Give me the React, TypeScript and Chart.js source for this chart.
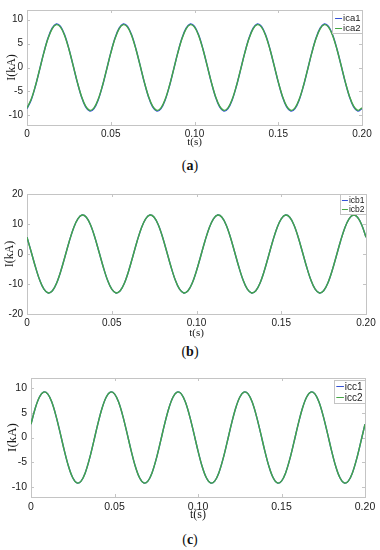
import React, { useEffect, useRef } from "react";
import { Chart, registerables } from "chart.js";

Chart.register(...registerables);

// ---- data ----
const T = [
  0, 0.0025, 0.005, 0.0075, 0.01, 0.0125, 0.015, 0.0175, 0.02, 0.0225, 0.025, 0.0275, 0.03, 0.0325, 0.035, 0.0375,
  0.04, 0.0425, 0.045, 0.0475, 0.05, 0.0525, 0.055, 0.0575, 0.06, 0.0625, 0.065, 0.0675, 0.07, 0.0725, 0.075, 0.0775,
  0.08, 0.0825, 0.085, 0.0875, 0.09, 0.0925, 0.095, 0.0975, 0.1, 0.1025, 0.105, 0.1075, 0.11, 0.1125, 0.115, 0.1175,
  0.12, 0.1225, 0.125, 0.1275, 0.13, 0.1325, 0.135, 0.1375, 0.14, 0.1425, 0.145, 0.1475, 0.15, 0.1525, 0.155, 0.1575,
  0.16, 0.1625, 0.165, 0.1675, 0.17, 0.1725, 0.175, 0.1775, 0.18, 0.1825, 0.185, 0.1875, 0.19, 0.1925, 0.195, 0.1975,
  0.2,
];

const ica1 = [
  -8.58, -6.76, -3.92, -0.48, 3.04, 6.09, 8.21, 9.09, 8.58, 6.76, 3.92, 0.48, -3.04, -6.09, -8.21, -9.09,
  -8.58, -6.76, -3.92, -0.48, 3.04, 6.09, 8.21, 9.09, 8.58, 6.76, 3.92, 0.48, -3.04, -6.09, -8.21, -9.09,
  -8.58, -6.76, -3.92, -0.48, 3.04, 6.09, 8.21, 9.09, 8.58, 6.76, 3.92, 0.48, -3.04, -6.09, -8.21, -9.09,
  -8.58, -6.76, -3.92, -0.48, 3.04, 6.09, 8.21, 9.09, 8.58, 6.76, 3.92, 0.48, -3.04, -6.09, -8.21, -9.09,
  -8.58, -6.76, -3.92, -0.48, 3.04, 6.09, 8.21, 9.09, 8.58, 6.76, 3.92, 0.48, -3.04, -6.09, -8.21, -9.09,
  -8.58,
];
const ica2 = [
  -8.44, -6.65, -3.85, -0.47, 2.99, 5.99, 8.08, 8.94, 8.44, 6.65, 3.85, 0.47, -2.99, -5.99, -8.08, -8.94,
  -8.44, -6.65, -3.85, -0.47, 2.99, 5.99, 8.08, 8.94, 8.44, 6.65, 3.85, 0.47, -2.99, -5.99, -8.08, -8.94,
  -8.44, -6.65, -3.85, -0.47, 2.99, 5.99, 8.08, 8.94, 8.44, 6.65, 3.85, 0.47, -2.99, -5.99, -8.08, -8.94,
  -8.44, -6.65, -3.85, -0.47, 2.99, 5.99, 8.08, 8.94, 8.44, 6.65, 3.85, 0.47, -2.99, -5.99, -8.08, -8.94,
  -8.44, -6.65, -3.85, -0.47, 2.99, 5.99, 8.08, 8.94, 8.44, 6.65, 3.85, 0.47, -2.99, -5.99, -8.08, -8.94,
  -8.44,
];
const icb1 = [
  5.6, 0.68, -4.34, -8.7, -11.73, -12.98, -12.25, -9.66, -5.6, -0.68, 4.34, 8.7, 11.73, 12.98, 12.25, 9.66,
  5.6, 0.68, -4.34, -8.7, -11.73, -12.98, -12.25, -9.66, -5.6, -0.68, 4.34, 8.7, 11.73, 12.98, 12.25, 9.66,
  5.6, 0.68, -4.34, -8.7, -11.73, -12.98, -12.25, -9.66, -5.6, -0.68, 4.34, 8.7, 11.73, 12.98, 12.25, 9.66,
  5.6, 0.68, -4.34, -8.7, -11.73, -12.98, -12.25, -9.66, -5.6, -0.68, 4.34, 8.7, 11.73, 12.98, 12.25, 9.66,
  5.6, 0.68, -4.34, -8.7, -11.73, -12.98, -12.25, -9.66, -5.6, -0.68, 4.34, 8.7, 11.73, 12.98, 12.25, 9.66,
  5.6,
];
const icb2 = [
  5.6, 0.68, -4.34, -8.7, -11.73, -12.98, -12.25, -9.66, -5.6, -0.68, 4.34, 8.7, 11.73, 12.98, 12.25, 9.66,
  5.6, 0.68, -4.34, -8.7, -11.73, -12.98, -12.25, -9.66, -5.6, -0.68, 4.34, 8.7, 11.73, 12.98, 12.25, 9.66,
  5.6, 0.68, -4.34, -8.7, -11.73, -12.98, -12.25, -9.66, -5.6, -0.68, 4.34, 8.7, 11.73, 12.98, 12.25, 9.66,
  5.6, 0.68, -4.34, -8.7, -11.73, -12.98, -12.25, -9.66, -5.6, -0.68, 4.34, 8.7, 11.73, 12.98, 12.25, 9.66,
  5.6, 0.68, -4.34, -8.7, -11.73, -12.98, -12.25, -9.66, -5.6, -0.68, 4.34, 8.7, 11.73, 12.98, 12.25, 9.66,
  5.6,
];
const icc1 = [
  2.69, 5.85, 8.12, 9.16, 8.8, 7.1, 4.32, 0.88, -2.69, -5.85, -8.12, -9.16, -8.8, -7.1, -4.32, -0.88,
  2.69, 5.85, 8.12, 9.16, 8.8, 7.1, 4.32, 0.88, -2.69, -5.85, -8.12, -9.16, -8.8, -7.1, -4.32, -0.88,
  2.69, 5.85, 8.12, 9.16, 8.8, 7.1, 4.32, 0.88, -2.69, -5.85, -8.12, -9.16, -8.8, -7.1, -4.32, -0.88,
  2.69, 5.85, 8.12, 9.16, 8.8, 7.1, 4.32, 0.88, -2.69, -5.85, -8.12, -9.16, -8.8, -7.1, -4.32, -0.88,
  2.69, 5.85, 8.12, 9.16, 8.8, 7.1, 4.32, 0.88, -2.69, -5.85, -8.12, -9.16, -8.8, -7.1, -4.32, -0.88,
  2.69,
];
const icc2 = [
  2.69, 5.85, 8.12, 9.16, 8.8, 7.1, 4.32, 0.88, -2.69, -5.85, -8.12, -9.16, -8.8, -7.1, -4.32, -0.88,
  2.69, 5.85, 8.12, 9.16, 8.8, 7.1, 4.32, 0.88, -2.69, -5.85, -8.12, -9.16, -8.8, -7.1, -4.32, -0.88,
  2.69, 5.85, 8.12, 9.16, 8.8, 7.1, 4.32, 0.88, -2.69, -5.85, -8.12, -9.16, -8.8, -7.1, -4.32, -0.88,
  2.69, 5.85, 8.12, 9.16, 8.8, 7.1, 4.32, 0.88, -2.69, -5.85, -8.12, -9.16, -8.8, -7.1, -4.32, -0.88,
  2.69, 5.85, 8.12, 9.16, 8.8, 7.1, 4.32, 0.88, -2.69, -5.85, -8.12, -9.16, -8.8, -7.1, -4.32, -0.88,
  2.69,
];

const X_TICKS = [0, 0.05, 0.1, 0.15, 0.2];
const X_TICK_LABELS = ["0", "0.05", "0.10", "0.15", "0.20"];
const Y_TICKS_AC = [-10, -5, 0, 5, 10];
const Y_TICKS_B = [-20, -10, 0, 10, 20];
const X_TITLE = "t(s)";
const Y_TITLE = "I(kA)";

const BLUE = "#3552d6";
const GREEN = "#45a745";
const FRAME = "#c4c4c4";
const SANS = '"Liberation Sans", Arial, sans-serif';
const SERIF = '"Liberation Serif", "Times New Roman", serif';

// ---- plugins ----
const framePlugin = {
  id: "frameTicks",
  beforeDatasetsDraw(chart: any) {
    const { ctx, chartArea: a, scales } = chart;
    const L = 3;
    ctx.save();
    ctx.strokeStyle = FRAME;
    ctx.lineWidth = 1;
    ctx.beginPath();
    scales.x.ticks.forEach((t: any) => {
      const px = Math.round(scales.x.getPixelForValue(t.value)) + 0.5;
      ctx.moveTo(px, a.bottom);
      ctx.lineTo(px, a.bottom - L);
      ctx.moveTo(px, a.top);
      ctx.lineTo(px, a.top + L);
    });
    scales.y.ticks.forEach((t: any) => {
      const py = Math.round(scales.y.getPixelForValue(t.value)) + 0.5;
      ctx.moveTo(a.left, py);
      ctx.lineTo(a.left + L, py);
      ctx.moveTo(a.right, py);
      ctx.lineTo(a.right - L, py);
    });
    ctx.stroke();
    ctx.strokeRect(Math.round(a.left) + 0.5, Math.round(a.top) + 0.5, Math.round(a.right - a.left), Math.round(a.bottom - a.top));
    ctx.restore();
  },
};

const legendPlugin = {
  id: "boxLegend",
  afterDraw(chart: any, _args: any, o: any) {
    if (!o || !o.show) return;
    const { ctx, chartArea: a } = chart;
    const ds = chart.data.datasets;
    ctx.save();
    ctx.font = `${o.size}px ${SANS}`;
    const tw = Math.max(...ds.map((d: any) => ctx.measureText(d.label).width));
    const w = o.padL + o.lineLen + o.gap + tw + o.padR;
    const h = o.padT + ds.length * o.rowH + o.padB;
    const x = a.right - w - o.offR;
    const y = a.top + o.offT;
    ctx.fillStyle = "#ffffff";
    ctx.fillRect(x, y, w, h);
    ctx.strokeStyle = FRAME;
    ctx.lineWidth = 1;
    ctx.strokeRect(Math.round(x) + 0.5, Math.round(y) + 0.5, Math.round(w), Math.round(h));
    ds.forEach((d: any, i: number) => {
      const cy = y + o.padT + o.rowH * (i + 0.5);
      ctx.strokeStyle = d.borderColor;
      ctx.lineWidth = 1;
      ctx.beginPath();
      ctx.moveTo(x + o.padL, Math.round(cy) + 0.5);
      ctx.lineTo(x + o.padL + o.lineLen, Math.round(cy) + 0.5);
      ctx.stroke();
      ctx.fillStyle = "#222";
      ctx.textBaseline = "middle";
      ctx.textAlign = "left";
      ctx.fillText(d.label, x + o.padL + o.lineLen + o.gap, cy + 0.5);
    });
    ctx.restore();
  },
};

type PanelCfg = {
  top: number;
  height: number;
  padTop: number;
  padRight: number;
  yWidth: number;
  xHeight: number;
  yMin: number;
  yMax: number;
  yTicks: number[];
  labels: string[];
  series: number[][];
  yTitleSize: number;
  yTitlePad: number;
  xTitleSize: number;
  xTitlePad: number;
  tickSize: number;
  tickPadX: number;
  legend: any;
  caption: string;
  captionTop: number;
};

const PANELS: PanelCfg[] = [
  {
    top: 0, height: 150, padTop: 4, padRight: 18, yWidth: 27, xHeight: 25,
    yMin: -12, yMax: 12, yTicks: Y_TICKS_AC, labels: ["ica1", "ica2"], series: [ica1, ica2],
    yTitleSize: 12, yTitlePad: 5, xTitleSize: 11, xTitlePad: 1, tickSize: 10, tickPadX: 3,
    legend: { show: true, size: 9.5, rowH: 10.4, padT: 2.6, padB: 0, padL: 3, lineLen: 7, gap: 1, padR: 1.5, offR: 0, offT: 0 },
    caption: "a", captionTop: 157,
  },
  {
    top: 180, height: 160, padTop: 14, padRight: 14, yWidth: 27, xHeight: 26,
    yMin: -20, yMax: 20, yTicks: Y_TICKS_B, labels: ["icb1", "icb2"], series: [icb1, icb2],
    yTitleSize: 12, yTitlePad: 3, xTitleSize: 11, xTitlePad: 0, tickSize: 10, tickPadX: 3,
    legend: { show: true, size: 8.5, rowH: 8.6, padT: 2, padB: 0.7, padL: 1.5, lineLen: 6, gap: 1, padR: 1.5, offR: 0, offT: 0 },
    caption: "b", captionTop: 343,
  },
  {
    top: 360, height: 165, padTop: 18, padRight: 15, yWidth: 31, xHeight: 28,
    yMin: -12, yMax: 12, yTicks: Y_TICKS_AC, labels: ["icc1", "icc2"], series: [icc1, icc2],
    yTitleSize: 13, yTitlePad: 5, xTitleSize: 12, xTitlePad: 3, tickSize: 10.5, tickPadX: 4,
    legend: { show: true, size: 10, rowH: 11, padT: 0.8, padB: 0.5, padL: 2.4, lineLen: 7.6, gap: 0.8, padR: 2.5, offR: 0, offT: 2 },
    caption: "c", captionTop: 531,
  },
];

function Panel({ cfg }: { cfg: PanelCfg }) {
  const ref = useRef<HTMLCanvasElement | null>(null);
  useEffect(() => {
    if (!ref.current) return;
    const colors = [BLUE, GREEN];
    const chart = new Chart(ref.current, {
      type: "line",
      data: {
        datasets: cfg.series.map((vals, si) => ({
          label: cfg.labels[si],
          data: T.map((t, i) => ({ x: t, y: vals[i] })),
          borderColor: colors[si],
          borderWidth: 1.4,
          pointRadius: 0,
          tension: 0.35,
          fill: false,
          order: si === 0 ? 1 : 0,
        })),
      },
      options: {
        animation: false,
        responsive: false,
        maintainAspectRatio: false,
        events: [],
        layout: { padding: { top: cfg.padTop, right: cfg.padRight, bottom: 0, left: 0 } },
        plugins: {
          legend: { display: false },
          tooltip: { enabled: false },
          boxLegend: cfg.legend,
        } as any,
        scales: {
          x: {
            type: "linear",
            min: 0,
            max: 0.2,
            grid: { display: false, drawTicks: false },
            border: { display: false },
            afterBuildTicks: (s: any) => {
              s.ticks = X_TICKS.map((v) => ({ value: v }));
            },
            afterFit: (s: any) => {
              s.height = cfg.xHeight;
            },
            ticks: {
              autoSkip: false,
              maxRotation: 0,
              padding: cfg.tickPadX,
              color: "#1a1a1a",
              font: { family: SANS, size: cfg.tickSize },
              callback: (v: any) => {
                const i = X_TICKS.findIndex((t) => Math.abs(t - Number(v)) < 1e-9);
                return i >= 0 ? X_TICK_LABELS[i] : "";
              },
            },
            title: {
              display: true,
              text: X_TITLE,
              color: "#1a1a1a",
              font: { family: SERIF, size: cfg.xTitleSize },
              padding: { top: 0, bottom: cfg.xTitlePad },
            },
          },
          y: {
            type: "linear",
            min: cfg.yMin,
            max: cfg.yMax,
            grid: { display: false, drawTicks: false },
            border: { display: false },
            afterBuildTicks: (s: any) => {
              s.ticks = cfg.yTicks.map((v) => ({ value: v }));
            },
            afterFit: (s: any) => {
              s.width = cfg.yWidth;
            },
            ticks: {
              padding: 4,
              color: "#1a1a1a",
              font: { family: SANS, size: cfg.tickSize },
            },
            title: {
              display: true,
              text: Y_TITLE,
              color: "#1a1a1a",
              font: { family: SERIF, size: cfg.yTitleSize },
              padding: { top: cfg.yTitlePad, bottom: 0 },
            },
          },
        },
      } as any,
      plugins: [framePlugin, legendPlugin],
    });
    return () => chart.destroy();
  }, [cfg]);

  return (
    <>
      <div style={{ position: "absolute", left: 0, top: cfg.top, width: 380, height: cfg.height }}>
        <canvas ref={ref} width={380} height={cfg.height} style={{ width: 380, height: cfg.height, display: "block" }} />
      </div>
      <div
        style={{
          position: "absolute",
          left: 0,
          top: cfg.captionTop,
          width: 380,
          textAlign: "center",
          fontFamily: SERIF,
          fontSize: 14,
          lineHeight: "17px",
          color: "#111",
        }}
      >
        (<b>{cfg.caption}</b>)
      </div>
    </>
  );
}

export default function App() {
  return (
    <div style={{ position: "absolute", left: 0, top: 0, width: 380, height: 550, background: "#fff" }}>
      {PANELS.map((p, i) => (
        <Panel key={i} cfg={p} />
      ))}
    </div>
  );
}
